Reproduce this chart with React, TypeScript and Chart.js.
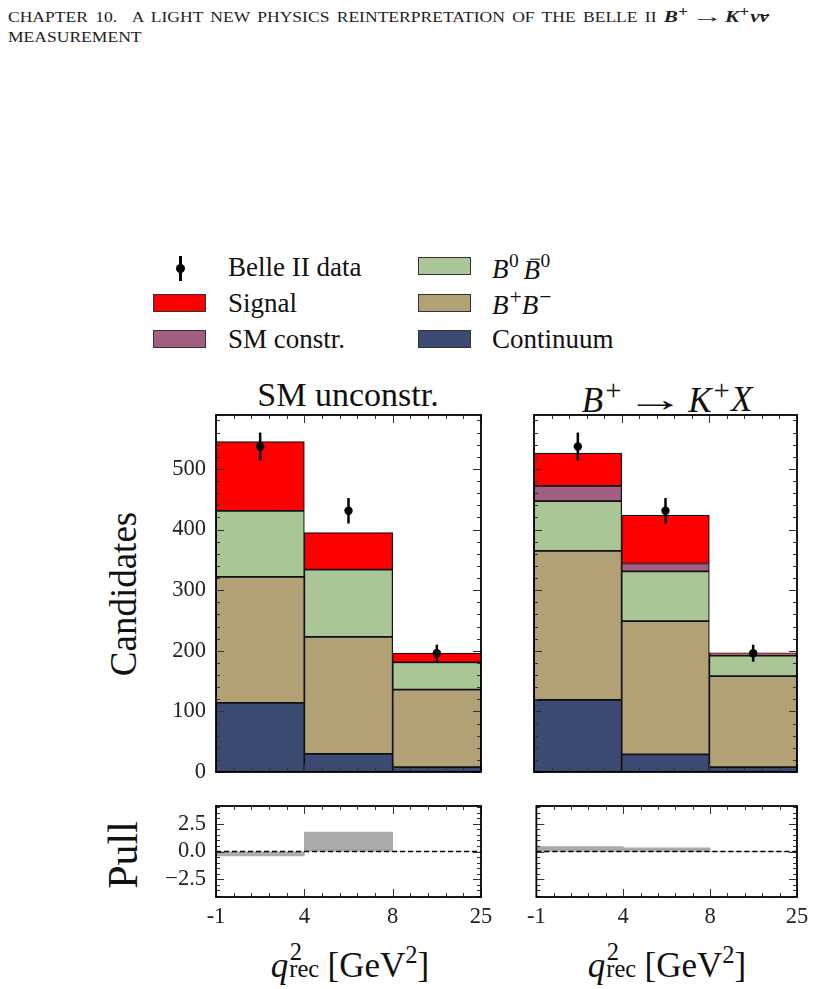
import React, { useEffect, useRef } from "react";
import { Chart, registerables } from "chart.js";
Chart.register(...registerables);

// ---------------- data ----------------
const binEdgeLabels = ["-1", "4", "8", "25"];
const binCenters = [0.5, 1.5, 2.5];

const dataCounts = [537, 431, 196];
const dataErrors = [23, 21, 14];

// Left panel: SM unconstr.
const smuContinuum = [114, 30, 8];
const smuBpBm = [208, 193, 128];
const smuB0B0 = [109, 111, 45];
const smuSignal = [114, 61, 15];
const smuPull = [-0.39, 1.74, 0];

// Right panel: B+ -> K+ X
const kxContinuum = [119, 29, 8];
const kxBpBm = [246, 220, 150];
const kxB0B0 = [82, 82, 34];
const kxSMConstr = [25, 13, 3];
const kxSignal = [54, 80, 1.5];
const kxPull = [0.45, 0.33, 0];

const mainYTicks = [0, 100, 200, 300, 400, 500];
const pullYTicks = [-2.5, 0, 2.5];
const pullYTickLabels = ["\u22122.5", "0.0", "2.5"];

const COL = {
  signal: "#ff0000",
  smConstr: "#a35f82",
  b0b0: "#aac696",
  bpbm: "#b3a176",
  continuum: "#3c4a73",
  pull: "#aaaaaa",
};

const SERIF = '"Liberation Serif", "Times New Roman", serif';

// ---------------- plugins ----------------
const framePlugin = {
  id: "frameTicks",
  afterDatasetsDraw(chart: any, _a: any, opts: any) {
    const { ctx, chartArea: a, scales } = chart;
    const x = scales.x;
    const y = scales.y;
    ctx.save();
    ctx.strokeStyle = "#333";
    ctx.lineWidth = 1;
    ctx.beginPath();
    for (let i = 0; i <= 15; i++) {
      const px = Math.round(x.getPixelForValue(i * 0.2)) + 0.5;
      const len = i % 5 === 0 ? 8 : 4;
      ctx.moveTo(px, a.bottom);
      ctx.lineTo(px, a.bottom - len);
      ctx.moveTo(px, a.top);
      ctx.lineTo(px, a.top + len);
    }
    const minor = opts.yMinorStep;
    const major = opts.yMajorStep;
    const start = Math.ceil(y.min / minor - 1e-9);
    const end = Math.floor(y.max / minor + 1e-9);
    for (let k = start; k <= end; k++) {
      const v = k * minor;
      const r = v / major;
      const isMajor = Math.abs(r - Math.round(r)) < 1e-6;
      const len = isMajor ? 8 : 4;
      const py = Math.round(y.getPixelForValue(v)) + 0.5;
      ctx.moveTo(a.left, py);
      ctx.lineTo(a.left + len, py);
      ctx.moveTo(a.right, py);
      ctx.lineTo(a.right - len, py);
    }
    ctx.stroke();
    ctx.lineWidth = 1.8;
    ctx.strokeStyle = "#000";
    ctx.strokeRect(a.left, a.top, a.right - a.left, a.bottom - a.top);
    ctx.restore();
  },
};

const errorBarPlugin = {
  id: "errorBars",
  afterDatasetsDraw(chart: any) {
    const { ctx, scales } = chart;
    const x = scales.x;
    const y = scales.y;
    chart.data.datasets.forEach((ds: any) => {
      if (!ds.errorBars) return;
      ds.data.forEach((pt: any, j: number) => {
        const e = ds.errorBars[j];
        const px = x.getPixelForValue(pt.x);
        ctx.save();
        ctx.strokeStyle = "#000";
        ctx.lineWidth = 2.5;
        ctx.beginPath();
        ctx.moveTo(px, y.getPixelForValue(pt.y - e));
        ctx.lineTo(px, y.getPixelForValue(pt.y + e));
        ctx.stroke();
        ctx.fillStyle = "#000";
        ctx.beginPath();
        ctx.arc(px, y.getPixelForValue(pt.y), 4.2, 0, Math.PI * 2);
        ctx.fill();
        ctx.restore();
      });
    });
  },
};

const tickFont = { family: SERIF, size: 22.5 };

function xScale(showLabels: boolean, axisHeight: number) {
  return {
    type: "linear",
    min: 0,
    max: 3,
    offset: false,
    stacked: true,
    afterBuildTicks: (s: any) => {
      s.ticks = binEdgeLabels.map((_, i) => ({ value: i }));
    },
    ticks: {
      display: showLabels,
      autoSkip: false,
      maxRotation: 0,
      padding: 7,
      color: "#222",
      font: tickFont,
      callback: (_v: any, i: number) => binEdgeLabels[i],
    },
    grid: { display: false, drawTicks: false },
    border: { display: false },
    afterFit: (s: any) => {
      s.height = axisHeight;
    },
  };
}

function mainChart(stack: { label: string; data: number[]; color: string }[], showY: boolean, yWidth: number, padRight: number) {
  const datasets: any[] = [
    {
      type: "scatter",
      label: "Belle II data",
      data: binCenters.map((x, i) => ({ x, y: dataCounts[i] })),
      errorBars: dataErrors,
      backgroundColor: "#000",
      borderColor: "#000",
      pointRadius: 0,
      stack: "data",
    },
    ...stack.map((s) => ({
      type: "bar",
      label: s.label,
      data: binCenters.map((x, i) => ({ x, y: s.data[i] })),
      backgroundColor: s.color,
      borderColor: "#111",
      borderWidth: 1.2,
      borderSkipped: false,
      barPercentage: 1,
      categoryPercentage: 1,
      stack: "mc",
    })),
  ];
  return {
    type: "bar",
    data: { datasets },
    options: {
      animation: false,
      responsive: false,
      devicePixelRatio: 1,
      events: [],
      layout: { padding: { top: 30, right: padRight, left: 0, bottom: 0 } },
      plugins: {
        legend: { display: false },
        tooltip: { enabled: false },
        frameTicks: { yMinorStep: 20, yMajorStep: 100 },
      },
      scales: {
        x: xScale(false, 30),
        y: {
          type: "linear",
          stacked: true,
          min: 0,
          max: 589,
          afterBuildTicks: (s: any) => {
            s.ticks = mainYTicks.map((v) => ({ value: v }));
          },
          ticks: { display: showY, padding: 10, color: "#222", font: tickFont },
          grid: { display: false, drawTicks: false },
          border: { display: false },
          afterFit: (s: any) => {
            s.width = yWidth;
          },
        },
      },
    },
    plugins: [framePlugin, errorBarPlugin],
  };
}

function pullChart(pull: number[], showY: boolean, yWidth: number, padRight: number) {
  return {
    type: "bar",
    data: {
      datasets: [
        {
          type: "line",
          label: "zero",
          data: [
            { x: 0, y: 0 },
            { x: 3, y: 0 },
          ],
          borderColor: "#000",
          borderWidth: 1.3,
          borderDash: [5, 3],
          pointRadius: 0,
        },
        {
          type: "bar",
          label: "Pull",
          data: binCenters.map((x, i) => ({ x, y: pull[i] })),
          backgroundColor: COL.pull,
          borderWidth: 0,
          barPercentage: 1,
          categoryPercentage: 1,
        },
      ],
    },
    options: {
      animation: false,
      responsive: false,
      devicePixelRatio: 1,
      events: [],
      layout: { padding: { top: 30, right: padRight, left: 0, bottom: 0 } },
      plugins: {
        legend: { display: false },
        tooltip: { enabled: false },
        frameTicks: { yMinorStep: 0.5, yMajorStep: 2.5 },
      },
      scales: {
        x: xScale(true, 39),
        y: {
          type: "linear",
          min: -4.1,
          max: 4.1,
          afterBuildTicks: (s: any) => {
            s.ticks = pullYTicks.map((v) => ({ value: v }));
          },
          ticks: {
            display: showY,
            padding: 10,
            color: "#222",
            font: tickFont,
            callback: (_v: any, i: number) => pullYTickLabels[i],
          },
          grid: { display: false, drawTicks: false },
          border: { display: false },
          afterFit: (s: any) => {
            s.width = yWidth;
          },
        },
      },
    },
    plugins: [framePlugin],
  };
}

// ---------------- components ----------------
function ChartBox({ left, top, width, height, make }: { left: number; top: number; width: number; height: number; make: () => any }) {
  const ref = useRef<HTMLCanvasElement>(null);
  useEffect(() => {
    const chart = new Chart(ref.current as HTMLCanvasElement, make());
    return () => chart.destroy();
  }, []);
  return <canvas ref={ref} width={width} height={height} style={{ position: "absolute", left, top, width, height }} />;
}

function Centered({ x, y, children, style }: { x: number; y: number; children: any; style?: any }) {
  return (
    <div
      style={{
        position: "absolute",
        left: x,
        top: y,
        transform: "translate(-50%, -50%)",
        whiteSpace: "nowrap",
        lineHeight: 1,
        ...style,
      }}
    >
      {children}
    </div>
  );
}

function Bar({ children, top, left = "0.22em", right = "0.02em" }: { children: any; top: string; left?: string; right?: string }) {
  return (
    <span style={{ position: "relative", display: "inline-block", lineHeight: 1 }}>
      {children}
      <span style={{ position: "absolute", left, right, top, borderTop: "0.07em solid #111" }} />
    </span>
  );
}

const Sup = ({ children, size = "0.72em", ml = "0.02em", va = "0.6em" }: { children: any; size?: string; ml?: string; va?: string }) => (
  <span style={{ fontSize: size, verticalAlign: va, fontStyle: "normal", marginLeft: ml, lineHeight: 1 }}>{children}</span>
);

const Arrow = ({ w = 1.9, m = 0.3 }: { w?: number; m?: number }) => (
  <span style={{ display: "inline-block", transform: `scaleX(${w})`, margin: `0 ${m + (w - 1) * 0.25}em`, fontStyle: "normal" }}>→</span>
);

function QLabel() {
  return (
    <span>
      <i>q</i>
      <span style={{ display: "inline-block", position: "relative", width: "1.0em", height: "1em" }}>
        <span style={{ position: "absolute", left: "0.06em", top: "-0.1em", fontSize: "0.7em" }}>2</span>
        <span style={{ position: "absolute", left: "0.04em", top: "0.62em", fontSize: "0.7em" }}>rec</span>
      </span>
      <span style={{ marginLeft: "0.12em" }}>[GeV</span>
      <sup style={{ fontSize: "0.7em", verticalAlign: "0.55em" }}>2</sup>]
    </span>
  );
}

function LegendBox({ x, y, color }: { x: number; y: number; color: string }) {
  return (
    <div
      style={{
        position: "absolute",
        left: x,
        top: y,
        width: 53,
        height: 18,
        boxSizing: "border-box",
        background: color,
        border: "1.2px solid #333",
      }}
    />
  );
}

function LegendText({ x, y, children }: { x: number; y: number; children: any }) {
  return (
    <div style={{ position: "absolute", left: x, top: y, transform: "translateY(-50%)", fontSize: 27, lineHeight: 1, whiteSpace: "nowrap" }}>
      {children}
    </div>
  );
}

export default function App() {
  return (
    <div
      style={{
        position: "absolute",
        left: 0,
        top: 0,
        width: 816,
        height: 989,
        background: "#fff",
        fontFamily: SERIF,
        color: "#111",
        overflow: "hidden",
      }}
    >
      {/* header */}
      <div
        style={{
          position: "absolute",
          left: 8,
          top: 5,
          fontSize: 14.5,
          lineHeight: "20px",
          whiteSpace: "nowrap",
          color: "#222",
          transform: "scaleX(1.21)",
          transformOrigin: "0 0",
          wordSpacing: "2.4px",
        }}
      >
        CHAPTER 10.&nbsp;&nbsp;A LIGHT NEW PHYSICS REINTERPRETATION OF THE BELLE II{" "}
        <b style={{ fontSize: 17.5, wordSpacing: 0 }}>
          <i>B</i>
          <Sup size="0.8em" va="0.45em">+</Sup>
          <Arrow w={1.5} m={0.25} />
          <i>K</i>
          <Sup size="0.8em" va="0.45em">+</Sup>
          <i style={{ marginLeft: "0.05em" }}>ν</i>
          <Bar top="0.36em" left="0.12em" right="0.0em">
            <i>ν</i>
          </Bar>
        </b>
        <br />
        MEASUREMENT
      </div>

      {/* legend */}
      <div style={{ position: "absolute", left: 179, top: 256, width: 2.5, height: 25, background: "#000" }} />
      <div style={{ position: "absolute", left: 176, top: 264, width: 9, height: 9, borderRadius: "50%", background: "#000" }} />
      <LegendText x={228} y={267}>Belle II data</LegendText>
      <LegendBox x={153} y={294} color={COL.signal} />
      <LegendText x={228} y={303}>Signal</LegendText>
      <LegendBox x={153} y={330} color={COL.smConstr} />
      <LegendText x={228} y={339}>SM constr.</LegendText>
      <LegendBox x={418} y={257} color={COL.b0b0} />
      <LegendText x={492} y={267}>
        <i>B</i>
        <Sup>0</Sup>
        <span style={{ marginLeft: 5 }} />
        <Bar top="0.1em">
          <i>B</i>
        </Bar>
        <Sup>0</Sup>
      </LegendText>
      <LegendBox x={418} y={294} color={COL.bpbm} />
      <LegendText x={492} y={303}>
        <i>B</i>
        <Sup size="0.8em" ml="0.05em" va="0.45em">+</Sup>
        <i>B</i>
        <Sup size="0.8em" ml="0.05em" va="0.45em">−</Sup>
      </LegendText>
      <LegendBox x={418} y={330} color={COL.continuum} />
      <LegendText x={492} y={339}>Continuum</LegendText>

      {/* panel titles */}
      <Centered x={348} y={395} style={{ fontSize: 34 }}>
        SM unconstr.
      </Centered>
      <Centered x={667} y={397} style={{ fontSize: 35 }}>
        <i>B</i>
        <Sup size="0.82em" ml="0.08em" va="0.4em">+</Sup>
        <Arrow w={1.7} m={0.28} />
        <i>K</i>
        <Sup size="0.82em" ml="0.06em" va="0.4em">+</Sup>
        <i style={{ marginLeft: "0.04em" }}>X</i>
      </Centered>

      {/* axis titles */}
      <Centered x={123} y={594} style={{ fontSize: 37, transform: "translate(-50%, -50%) rotate(-90deg)" }}>
        Candidates
      </Centered>
      <Centered x={123} y={855} style={{ fontSize: 42, transform: "translate(-50%, -50%) rotate(-90deg)" }}>
        Pull
      </Centered>
      <Centered x={350} y={962} style={{ fontSize: 35 }}>
        <QLabel />
      </Centered>
      <Centered x={667} y={962} style={{ fontSize: 35 }}>
        <QLabel />
      </Centered>

      {/* charts */}
      <ChartBox
        left={140}
        top={385}
        width={350}
        height={417}
        make={() =>
          mainChart(
            [
              { label: "Continuum", data: smuContinuum, color: COL.continuum },
              { label: "B+B-", data: smuBpBm, color: COL.bpbm },
              { label: "B0B0bar", data: smuB0B0, color: COL.b0b0 },
              { label: "Signal", data: smuSignal, color: COL.signal },
            ],
            true,
            76,
            9
          )
        }
      />
      <ChartBox
        left={520}
        top={385}
        width={287}
        height={417}
        make={() =>
          mainChart(
            [
              { label: "Continuum", data: kxContinuum, color: COL.continuum },
              { label: "B+B-", data: kxBpBm, color: COL.bpbm },
              { label: "B0B0bar", data: kxB0B0, color: COL.b0b0 },
              { label: "SM constr.", data: kxSMConstr, color: COL.smConstr },
              { label: "Signal", data: kxSignal, color: COL.signal },
            ],
            false,
            14,
            10
          )
        }
      />
      <ChartBox left={140} top={776} width={360} height={160} make={() => pullChart(smuPull, true, 76, 19)} />
      <ChartBox left={520} top={776} width={296} height={160} make={() => pullChart(kxPull, false, 14, 19)} />
    </div>
  );
}
